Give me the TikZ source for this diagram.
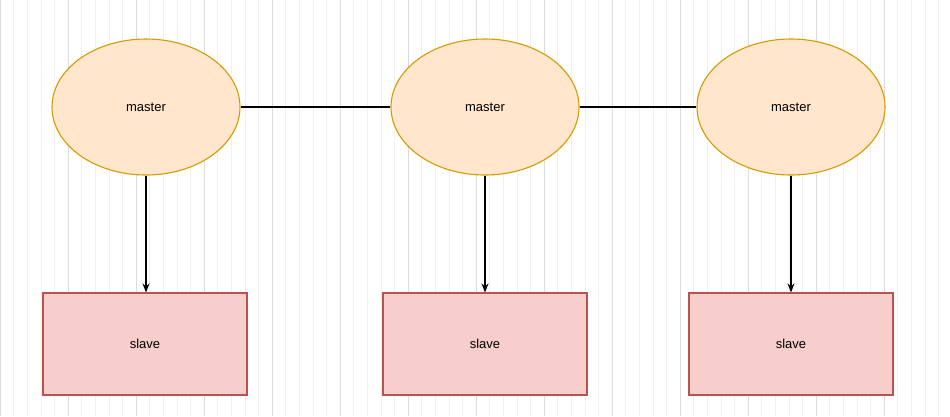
\documentclass[tikz,border=0pt]{standalone}
\usepackage{fontspec}
\setmainfont{Liberation Sans}
\usetikzlibrary{shapes.geometric,arrows.meta}
\begin{document}
\begin{tikzpicture}[x=1pt,y=-1pt,
  mnode/.style={ellipse,draw={rgb,255:red,214;green,155;blue,0},fill={rgb,255:red,255;green,230;blue,204},line width=1.1pt,minimum width=188pt,minimum height=136pt,font=\fontsize{13}{15}\selectfont},
  snode/.style={rectangle,draw={rgb,255:red,184;green,84;blue,80},fill={rgb,255:red,248;green,206;blue,204},line width=1.1pt,minimum width=204pt,minimum height=102pt,font=\fontsize{13}{15}\selectfont},
  conn/.style={line width=1.1pt,black},
  arr/.style={conn,-{Stealth[length=9pt,width=7pt]}}]
\useasboundingbox (0,0) rectangle (950,416);
\fill[white] (0,0) rectangle (950,416);
\draw[black!6,line width=0.5pt] (0,0) grid[step=13.6] (950,416);
\draw[black!14,line width=0.5pt] (0,0) grid[step=68] (950,416);
\node[mnode] (m1) at (146,107) {master};
\node[mnode] (m2) at (485,107) {master};
\node[mnode] (m3) at (791,107) {master};
\node[snode] (s1) at (145,344) {slave};
\node[snode] (s2) at (485,344) {slave};
\node[snode] (s3) at (791,344) {slave};
\draw[conn] (m1) -- (m2);
\draw[conn] (m2) -- (m3);
\draw[arr] (m1) -- (m1|-s1.north);
\draw[arr] (m2) -- (m2|-s2.north);
\draw[arr] (m3) -- (m3|-s3.north);
\end{tikzpicture}
\end{document}
